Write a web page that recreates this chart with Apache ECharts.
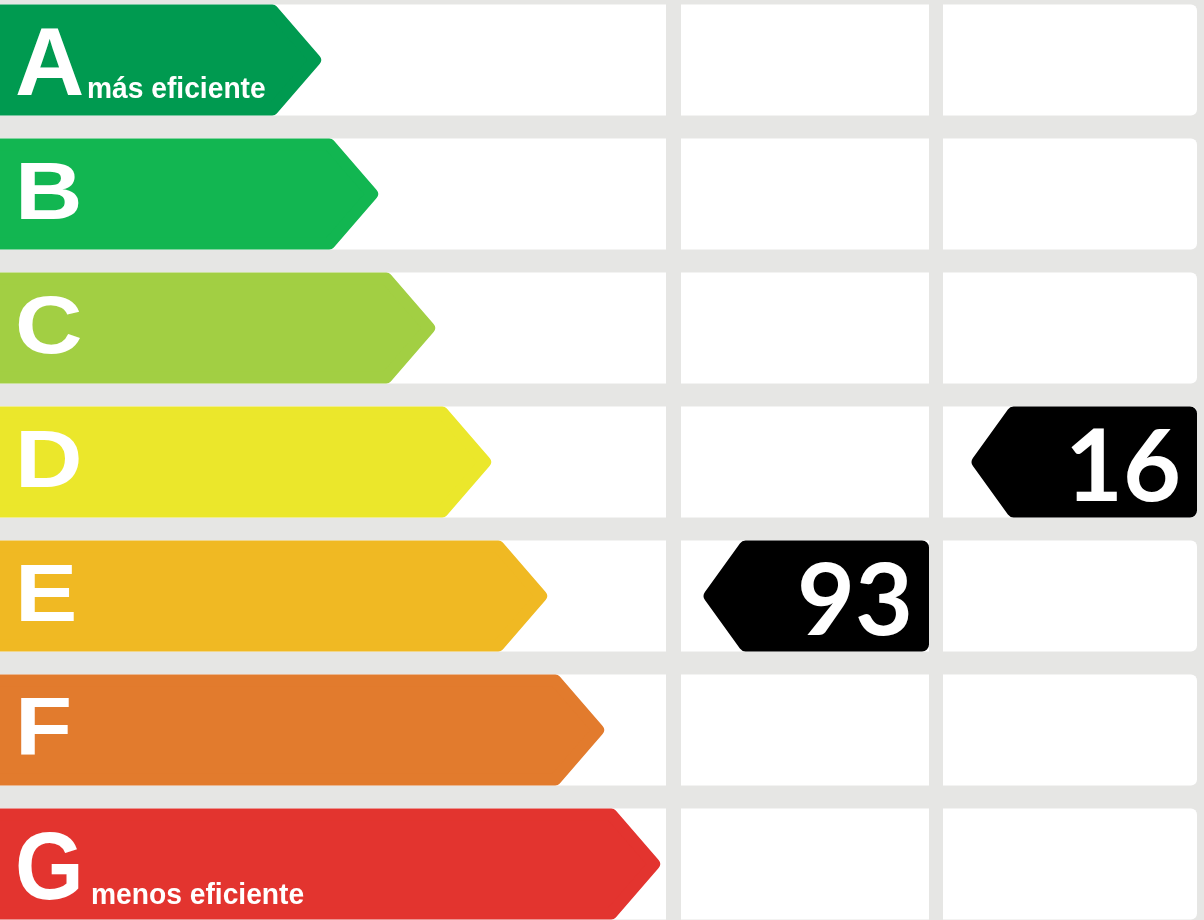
<!DOCTYPE html>
<html>
<head>
<meta charset="utf-8">
<title>Calificación energética</title>
<script src="https://cdn.jsdelivr.net/npm/echarts@6/dist/echarts.min.js"></script>
<style>
    html, body { margin: 0; padding: 0; background: #e6e6e4; }
    #chart { width: 1204px; height: 920px; }
</style>
</head>
<body>
<div id="chart"></div>
<script>
// escala de letras
var grades = ['A', 'B', 'C', 'D', 'E', 'F', 'G'];
var gradeNotes = ['más eficiente', '', '', '', '', '', 'menos eficiente'];
// largo de cada flecha, en unidades del eje x (0..1204)
var arrowLength = [323, 380, 437, 493, 549, 606, 662];
// columnas de la derecha: consumo y emisiones
var ratingColumns = ['consumo', 'emisiones'];
var ratingGrades = ['E', 'D'];
var ratingValues = [93, 16];

var gradeColors = ['#009a50', '#12b651', '#a2cf43', '#ebe72b', '#f0b923', '#e27b2d', '#e3342f'];
// limites de las columnas blancas (eje x)
var cols = [[0, 666], [681, 929], [943, 1197]];

var chart = echarts.init(document.getElementById('chart'));

function rowBox(api, i) {
    var c = api.coord([0, i]);
    var h = api.size([0, 1])[1] - 23;
    return {top: c[1] - h / 2, bottom: c[1] + h / 2, cy: c[1], h: h};
}

//filas: celdas blancas + flecha de color + letra
function renderRow(params, api) {
    var i = api.value(0);
    var b = rowBox(api, i);
    var px = function (v) { return api.coord([v, i])[0]; };
    var kids = [];
    cols.forEach(function (cc, k) {
        kids.push({
            type: 'rect',
            shape: {x: px(cc[0]), y: b.top, width: px(cc[1]) - px(cc[0]), height: b.h, r: k == 2 ? [0, 6, 6, 0] : 0},
            style: {fill: '#ffffff'}
        });
    });
    var tip = px(api.value(1));
    var r = 6, sh = r * 1.32;
    kids.push({
        type: 'polygon',
        shape: {points: [
            [-10, b.top + r],
            [tip - 48 + 48 * r / b.h * 2 - sh, b.top + r],
            [tip - sh, b.cy],
            [tip - 48 + 48 * r / b.h * 2 - sh, b.bottom - r],
            [-10, b.bottom - r]
        ]},
        style: {fill: gradeColors[i], stroke: gradeColors[i], lineWidth: 2 * r, lineJoin: 'round'}
    });
    var big = gradeNotes[i] !== '';
    kids.push({
        type: 'text',
        x: 15, y: b.top + (big ? 64 : 58),
        scaleX: big ? (i == 0 ? 1 : 0.92) : 1.14,
        style: {
            text: grades[i], fill: '#ffffff',
            fontFamily: 'Liberation Sans', fontWeight: 'bold', fontSize: big ? 96 : 82,
            textAlign: 'left', textVerticalAlign: 'middle'
        }
    });
    if (big) {
        kids.push({
            type: 'text',
            x: i == 0 ? 87 : 91, y: b.top + (i == 0 ? 85 : 87),
            scaleX: 0.94,
            style: {
                text: gradeNotes[i], fill: '#ffffff',
                fontFamily: 'Liberation Sans', fontWeight: 'bold', fontSize: 30,
                textAlign: 'left', textVerticalAlign: 'middle'
            }
        });
    }
    return {type: 'group', children: kids};
}

//etiquetas negras con el valor
function renderBadge(params, api) {
    var i = api.value(0);
    var col = cols[api.value(1) + 1];
    var b = rowBox(api, i);
    var R = api.coord([col[1], i])[0];
    var r = 7, sh = r * 1.23;
    var L = R - 227;
    return {
        type: 'group',
        children: [{
            type: 'polygon',
            shape: {points: [
                [R - r, b.top + r],
                [L + 40 - 40 * r / b.h * 2 + sh, b.top + r],
                [L + sh, b.cy],
                [L + 40 - 40 * r / b.h * 2 + sh, b.bottom - r],
                [R - r, b.bottom - r]
            ]},
            style: {fill: '#000000', stroke: '#000000', lineWidth: 2 * r, lineJoin: 'round'}
        }, {
            type: 'text',
            x: R - 16, y: b.cy + 7,
            style: {
                text: String(api.value(2)), fill: '#ffffff',
                fontFamily: 'Lato', fontWeight: 'bold', fontSize: 100,
                textAlign: 'right', textVerticalAlign: 'middle'
            }
        }]
    };
}

var rowData = grades.map(function (g, i) { return [i, arrowLength[i]]; });
var badgeData = ratingValues.map(function (v, k) {
    return [grades.indexOf(ratingGrades[k]), k, v];
});

chart.setOption({
    animation: false,
    backgroundColor: '#e6e6e4',
    grid: {left: 0, right: 0, top: -7, bottom: -11, outerBoundsMode: 'none'},
    xAxis: {type: 'value', min: 0, max: 1204, show: false},
    yAxis: {type: 'category', data: grades, inverse: true, show: false},
    series: [
        {type: 'custom', renderItem: renderRow, data: rowData, encode: {x: 1, y: 0}, silent: true},
        {type: 'custom', name: ratingColumns.join('/'), renderItem: renderBadge, data: badgeData, encode: {x: 1, y: 0}, silent: true}
    ]
});
</script>
</body>
</html>
